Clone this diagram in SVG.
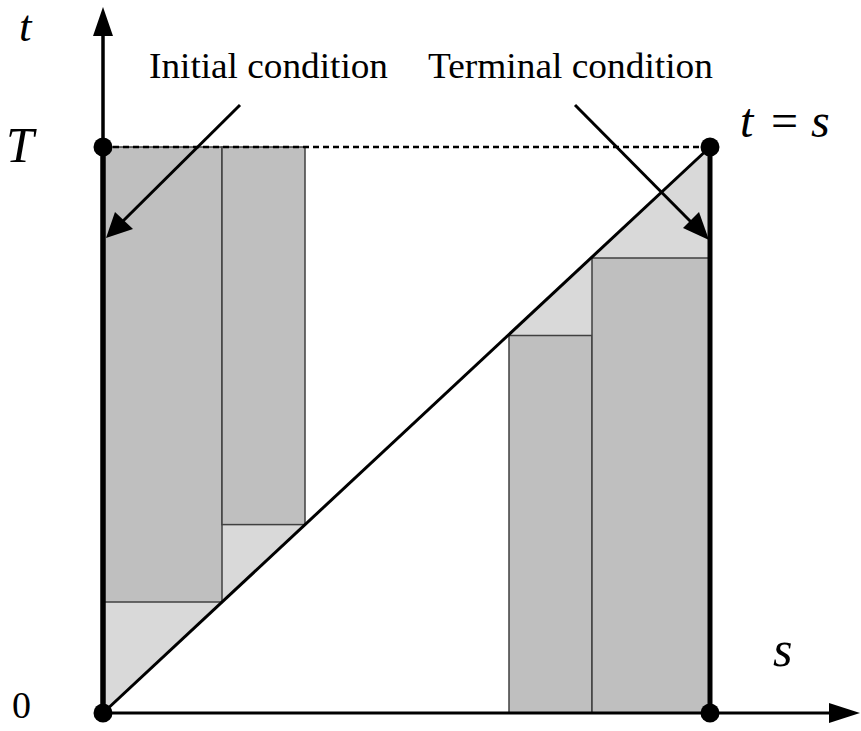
<svg xmlns="http://www.w3.org/2000/svg" width="861" height="731" viewBox="0 0 861 731">
<defs>
<style>
.dark{fill:#bfbfbf;stroke:#404040;stroke-width:1.5}
.light{fill:#d9d9d9;stroke:none}
.txt{font-family:"Liberation Serif","Times New Roman",serif;fill:#000}
.math{font-family:"Liberation Serif","Times New Roman",serif;font-style:italic;fill:#000}
.ln{stroke:#000;fill:none}
</style>
</defs>
<rect width="861" height="731" fill="#fff"/>
<g id="regions">
<polygon class="light" points="103,602 222,602 103,713"/>
<polygon class="light" points="222,602 305,524.6 222,524.6"/>
<polygon class="light" points="509,335.5 592,257 592,335.5"/>
<polygon class="light" points="592,258 710,147 710,258"/>
<rect id="rect1" class="dark" x="103" y="147" width="119" height="455"/>
<rect id="rect2" class="dark" x="222" y="147" width="83" height="377.6"/>
<rect id="rect3" class="dark" x="509" y="335.5" width="83" height="377.5"/>
<rect id="rect4" class="dark" x="592" y="258" width="118" height="455"/>
</g>
<g id="connectors">
<line class="ln" x1="103" y1="147" x2="710" y2="147" stroke-width="2.5" stroke-dasharray="6,4"/>
<line class="ln" x1="103" y1="147" x2="103" y2="32" stroke-width="3.5"/>
<polygon points="103,7 93,36 113,36" fill="#000"/>
<line class="ln" x1="103" y1="713" x2="832" y2="713" stroke-width="3"/>
<polygon points="860,713 829,703 829,723" fill="#000"/>
<line class="ln" x1="103" y1="713" x2="710" y2="147" stroke-width="3"/>
<line class="ln" x1="103" y1="713" x2="103" y2="147" stroke-width="5.5"/>
<line class="ln" x1="710" y1="713" x2="710" y2="147" stroke-width="5"/>
<line class="ln" x1="240" y1="105" x2="120" y2="224" stroke-width="3"/>
<polygon points="106,238 115,212 133,229" fill="#000"/>
<line class="ln" x1="575" y1="105" x2="695" y2="226" stroke-width="3"/>
<polygon points="709,240 683,228 699,212" fill="#000"/>
<circle cx="103" cy="147" r="9.5" fill="#000"/>
<circle cx="710" cy="147" r="9.5" fill="#000"/>
<circle cx="103" cy="713" r="9.5" fill="#000"/>
<circle cx="710" cy="713" r="9.5" fill="#000"/>
</g>
<g id="labels">
<text class="math" x="19" y="41" font-size="45">t</text>
<text class="math" x="6" y="162" font-size="50">T</text>
<text class="txt" x="12" y="718" font-size="38">0</text>
<text class="math" x="740" y="137" font-size="48">t</text>
<text class="txt" x="771" y="137" font-size="48">=</text>
<text class="math" x="811" y="137" font-size="48">s</text>
<text class="math" x="773" y="666" font-size="50">s</text>
<text class="txt" x="149" y="78" font-size="36" textLength="239" lengthAdjust="spacingAndGlyphs">Initial condition</text>
<text class="txt" x="428" y="78" font-size="36" textLength="285" lengthAdjust="spacingAndGlyphs">Terminal condition</text>
</g>
</svg>
